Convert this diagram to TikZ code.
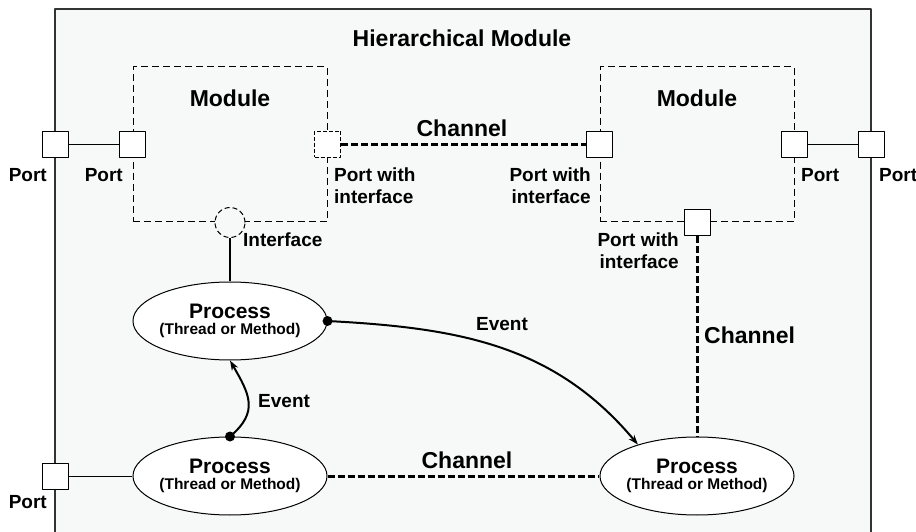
\documentclass[tikz,border=0pt]{standalone}
\usepackage{fontspec}
\setmainfont{Liberation Sans}
\usetikzlibrary{shapes.geometric,arrows.meta}
\definecolor{modbg}{RGB}{247,249,249}
\tikzset{
  port/.style={draw,fill=white,line width=1pt,minimum size=26pt,inner sep=0pt},
  ifport/.style={port,dash pattern=on 4pt off 2pt},
  iface/.style={draw,circle,fill=modbg,line width=1pt,dash pattern=on 5pt off 3pt,minimum size=30pt,inner sep=0pt},
  process/.style={draw,ellipse,fill=white,line width=1pt,minimum width=194pt,minimum height=78pt,
    inner xsep=-2pt,inner ysep=0pt,align=center,font=\fontsize{15.5}{16}\selectfont\bfseries},
  module/.style={draw,dash pattern=on 7pt off 4pt,line width=1pt,minimum width=194pt,minimum height=155pt},
  chan/.style={line width=3pt,dash pattern=on 7pt off 3pt},
  event/.style={line width=2pt,-{Stealth[length=10pt,width=7pt]}},
  txt/.style={inner sep=0pt,font=\fontsize{19}{22}\selectfont\bfseries},
  bigtxt/.style={inner sep=0pt,font=\fontsize{23}{26}\selectfont\bfseries}
}
\begin{document}
\begin{tikzpicture}[x=1pt,y=1pt,line join=round]
	\useasboundingbox (0,0) rectangle (916,531);
	% hierarchical module
	\draw[line width=1.5pt,black!80,fill=modbg] (55,-20) rectangle (871,522);
	\node[bigtxt,anchor=base] (title) at (462,484) {Hierarchical Module};
	% modules
	\node[module] (modL) at (230,386.5) {};
	\node[module] (modR) at (697,386.5) {};
	\node[bigtxt,anchor=base] (modLtxt) at (230,424) {Module};
	\node[bigtxt,anchor=base] (modRtxt) at (697,424) {Module};
	% ports
	\node[port] (pOutL) at (55,386.5) {};
	\node[port] (pInL) at (modL.west) {};
	\node[ifport] (pIfL) at (modL.east) {};
	\node[iface] (ifc) at (modL.south) {};
	\node[port] (pIfR) at (modR.west) {};
	\node[port] (pInR) at (modR.east) {};
	\node[port] (pOutR) at (871,386.5) {};
	\node[port] (pIfB) at (modR.south) {};
	% processes
	\node[process] (p1) at (230,210) {{\fontsize{21}{21}\selectfont Process}\\(Thread or Method)};
	\node[process] (p2) at (230,55) {{\fontsize{21}{21}\selectfont Process}\\(Thread or Method)};
	\node[process] (p3) at (697,55) {{\fontsize{21}{21}\selectfont Process}\\(Thread or Method)};
	\node[port] (pOutB) at (55,55) {};
	% connections
	\draw[line width=1pt] (pOutL) -- (pInL);
	\draw[line width=1pt] (pInR) -- (pOutR);
	\draw[line width=1pt] (pOutB) -- (p2);
	\draw[line width=1.5pt] (ifc) -- (p1);
	\draw[chan] (pIfL) -- (pIfR);
	\draw[chan] (pIfB) -- (p3);
	\draw[chan] (p2) -- (p3);
	\draw[event] (p1.east) to[out=-3,in=130] (p3.152);
	\draw[event] (p2.north) to[out=40,in=-60,looseness=1.3] (p1.south);
	\fill (p1.east) circle (5);
	\fill (p2.north) circle (5);
	% labels
	\node[txt,anchor=base east] (lPortOutL) at (47,349) {Port};
	\node[txt,anchor=base east] (lPortInL) at (123,349) {Port};
	\node[txt,anchor=north west,align=left] (lIfL) at (334,363) {Port with\\interface};
	\node[txt,anchor=base west] (lIface) at (243,284) {Interface};
	\node[txt,anchor=north east,align=right] (lIfR) at (591,363) {Port with\\interface};
	\node[txt,anchor=base west] (lPortInR) at (801,349) {Port};
	\node[txt,anchor=base west] (lPortOutR) at (879,349) {Port};
	\node[txt,anchor=north east,align=right] (lIfB) at (679,298) {Port with\\interface};
	\node[txt,anchor=base east] (lPortB) at (47,23) {Port};
	\node[bigtxt,anchor=base] (lChTop) at (462,394) {Channel};
	\node[bigtxt,anchor=base west] (lChV) at (704,188) {Channel};
	\node[bigtxt,anchor=base] (lChBot) at (467,63) {Channel};
	\node[txt,anchor=base] (lEv1) at (502,201) {Event};
	\node[txt,anchor=base west] (lEv2) at (258,124) {Event};
\end{tikzpicture}
\end{document}
